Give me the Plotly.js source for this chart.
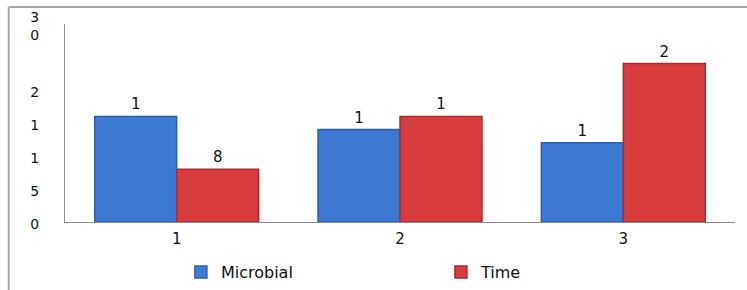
<!DOCTYPE html>
<html>
<head>
<meta charset="utf-8">
<script src="https://cdn.plot.ly/plotly-3.0.1.min.js"></script>
<style>html,body{margin:0;padding:0;background:#fff;}#chart{width:747px;height:290px;}</style>
</head>
<body>
<div id="chart"></div>
<script>
const categories = ['1', '2', '3'];
const microbial = [16, 14, 12];
const time = [8, 16, 24];
const microbialLabels = ['1', '1', '1'];
const timeLabels = ['8', '1', '2'];
const yTickVals = [0, 5, 10, 15, 20, 30];
const yTickText = ['0', '5', '1', '1', '2', '3<br>0'];

const fam = 'DejaVu Sans, Arial, sans-serif';
const labelFont = {family: fam, size: 15, color: '#111'};

const data = [
  {type: 'bar', name: 'Microbial', x: categories, y: microbial, text: microbialLabels,
   textposition: 'outside', textfont: labelFont, cliponaxis: false,
   marker: {color: '#3c79d2', line: {color: '#2b5fab', width: 1.5}}},
  {type: 'bar', name: 'Time', x: categories, y: time, text: timeLabels,
   textposition: 'outside', textfont: labelFont, cliponaxis: false,
   marker: {color: '#d73d3d', line: {color: '#a92b2b', width: 1.5}}}
];

const layout = {
  width: 747, height: 290,
  margin: {l: 65, r: 12, t: 24, b: 68, autoexpand: false},
  paper_bgcolor: '#fff', plot_bgcolor: '#fff',
  font: {family: fam, size: 14, color: '#111'},
  barmode: 'group', bargap: 0.266, bargroupgap: 0,
  showlegend: true,
  legend: {orientation: 'h', x: 0.173, xanchor: 'left', y: -0.253, yanchor: 'middle',
           entrywidth: 215, entrywidthmode: 'pixels', itemwidth: 30,
           font: {family: fam, size: 16, color: '#111'}},
  xaxis: {showline: true, linecolor: '#8c8c8c', linewidth: 1, ticks: '', showgrid: false,
          zeroline: false, tickfont: {family: fam, size: 15, color: '#111'}, ticklabelstandoff: 3},
  yaxis: {range: [0, 30], showline: true, linecolor: '#8c8c8c', linewidth: 1, ticks: '',
          showgrid: false, zeroline: false, tickvals: yTickVals, ticktext: yTickText,
          tickfont: {family: fam, size: 14, color: '#111'}, ticklabelstandoff: 22, ticklabelshift: 2},
  shapes: [
    {type: 'line', xref: 'paper', yref: 'paper', x0: -0.084, x1: 1.1, y0: 1.086, y1: 1.086,
     line: {color: '#a6a6a6', width: 2}},
    {type: 'line', xref: 'paper', yref: 'paper', x0: -0.084, x1: -0.084, y0: 1.086, y1: -0.4,
     line: {color: '#a6a6a6', width: 2}}
  ]
};

Plotly.newPlot('chart', data, layout, {displayModeBar: false, staticPlot: true});
</script>
</body>
</html>
